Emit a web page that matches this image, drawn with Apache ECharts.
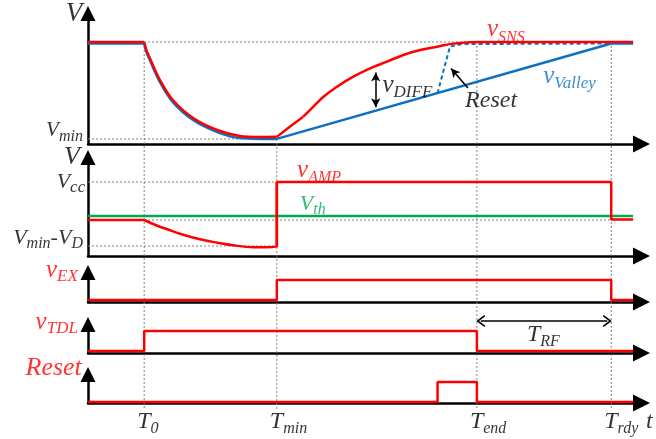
<!DOCTYPE html>
<html>
<head>
<meta charset="utf-8">
<script src="https://cdn.jsdelivr.net/npm/echarts@6/dist/echarts.min.js"></script>
<style>
  html, body { margin: 0; padding: 0; background: #ffffff; }
  #chart { width: 656px; height: 439px; }
</style>
</head>
<body>
<div id="chart"></div>
<script>
// ---- Event instants on the shared time axis (arbitrary units) ----
const T0 = 10, T_MIN = 33.6, T_END = 69.2, T_RDY = 93.1, T_STOP = 97;
const eventTimes = [T0, T_MIN, T_END, T_RDY];
const eventSubs = ['0', 'min', 'end', 'rdy'];

// ---- Panel 1: sensed voltage v_SNS and valley tracker v_Valley (normalised) ----
const V_HIGH = 1.0, V_MIN = 0.05;
const snsTime = [0, 10, 10.4, 11.0, 12.8, 15.1, 18.7, 23.0, 27.0, 30.6, 33.6, 35.9, 38.3, 40.1, 41.9, 44.3, 47.2, 50.2, 53.2, 56.1, 59.1, 62.1, 65.0, 69.2, 97];
const snsVal  = [1.0, 1.0, 0.92, 0.843, 0.627, 0.431, 0.255, 0.137, 0.078, 0.068, 0.07, 0.17, 0.268, 0.366, 0.464, 0.562, 0.66, 0.742, 0.807, 0.873, 0.922, 0.954, 0.984, 1.0, 1.0];
const valleyTime = [0, 10, 10.4, 11.0, 12.8, 15.1, 18.7, 23.0, 27.0, 30.6, 33.6, 93.1, 97];
const valleyVal  = [0.985, 0.985, 0.90, 0.823, 0.607, 0.411, 0.235, 0.117, 0.058, 0.05, 0.05, 0.985, 0.985];
// valley tracker once Reset fires (dashed)
const resetTrackTime = [62.2, 64.4, 66.5, 93.1];
const resetTrackVal  = [0.50, 0.955, 0.98, 0.985];

// ---- Panel 2: amplifier output v_AMP against threshold V_th ----
const V_CC = 7.4, V_TH = 4.0, V_MIN_VD = 1.0, V_AMP_REST = 3.6;
const ampTime = [0, 10, 12.0, 14.1, 16.5, 19.9, 23.0, 25.8, 29.4, 33.6, 33.6, 93.1, 93.1, 97];
const ampVal  = [3.6, 3.6, 3.1, 2.67, 2.2, 1.67, 1.33, 1.07, 0.87, 0.93, 7.4, 7.4, 3.65, 3.65];
const vthTime = [0, 97];
const vthVal  = [4.0, 4.0];

// ---- Logic signals ----
const exTime  = [0, 33.6, 33.6, 93.1, 93.1, 97];
const exVal   = [0.1, 0.1, 1.1, 1.1, 0.1, 0.1];
const tdlTime = [0, 10, 10, 69.2, 69.2, 97];
const tdlVal  = [0.1, 0.1, 1.1, 1.1, 0.1, 0.1];
const rstTime = [0, 62.2, 62.2, 69.2, 69.2, 97];
const rstVal  = [0.05, 0.05, 1.05, 1.05, 0.05, 0.05];

// T_RF span marker (drawn above the v_TDL pulse, in v_TDL units)
const trfLevel = 1.6;

// where each vertical event guide starts in panel-1 units
const guideTop = [V_HIGH, V_MIN, V_HIGH, V_HIGH];

// piecewise drawing: [from, to, curved?]
const snsPieces = [[0, T0, false], [T0, T_MIN, true], [T_MIN, 38.3, false], [38.3, T_END, true], [T_END, T_STOP, false]];
const valleyPieces = [[0, T0, false], [T0, T_MIN, true], [T_MIN, T_STOP, false]];
const ampPieces = [[0, T0, false], [T0, T_MIN, true], [T_MIN, T_STOP, false]];

// ---- layout ----
const W = 656;
const LEFT = 88, AXIS_END_X = 641.5, PX_PER_T = 5.62;
const X_MAX = (AXIS_END_X - LEFT) / PX_PER_T;
const ARROW = 15;
const panels = [
  { base: 144, tip: 6,   unit: 102 },
  { base: 256, tip: 150, unit: 10 },
  { base: 302, tip: 265, unit: 20 },
  { base: 353, tip: 317, unit: 20 },
  { base: 403, tip: 367, unit: 20 }
];

const SERIF = '"Liberation Serif", "Times New Roman", serif';
const RED = '#ff0000', BLUE = '#0b6fc2', GREEN = '#00a850', GREY = '#808080', BLACK = '#000000';

const grids = [], xAxes = [], yAxes = [];
panels.forEach(p => {
  const top = p.tip + ARROW / 2;
  const h = p.base - top;
  grids.push({ left: LEFT, right: W - AXIS_END_X, top: top, height: h });
  xAxes.push({
    type: 'value', min: 0, max: X_MAX, gridIndex: grids.length - 1,
    axisLine: { show: true, lineStyle: { color: BLACK, width: 2.5 }, symbol: ['none', 'triangle'], symbolSize: [17, 17] },
    axisTick: { show: false }, axisLabel: { show: false }, splitLine: { show: false }
  });
  yAxes.push({
    type: 'value', min: 0, max: h / p.unit, gridIndex: grids.length - 1,
    axisLine: { show: true, lineStyle: { color: BLACK, width: 2.5 }, symbol: ['none', 'triangle'], symbolSize: [ARROW, ARROW] },
    axisTick: { show: false }, axisLabel: { show: false }, splitLine: { show: false }
  });
});
// transparent overlay spanning all panels, in panel-1 units, for guides, time labels and spans
const ovTop = panels[0].tip + ARROW / 2;
const ovH = 436 - ovTop;
const ovMax = (panels[0].base - ovTop) / panels[0].unit;
grids.push({ left: LEFT, right: W - AXIS_END_X, top: ovTop, height: ovH });
xAxes.push({ type: 'value', min: 0, max: X_MAX, gridIndex: 5, show: false });
yAxes.push({ type: 'value', min: ovMax - ovH / panels[0].unit, max: ovMax, gridIndex: 5, show: false });
const GUIDE_BOTTOM = -2.6, TIME_LABEL_V = -2.75;
// convert a value of panel p into overlay (panel-1) units
const toOverlay = (p, v) => (panels[0].base - (panels[p].base - v * panels[p].unit)) / panels[0].unit;

const zip = (t, v) => t.map((x, i) => [x, v[i]]);
const within = (pts, a, b) => pts.filter(d => d[0] >= a && d[0] <= b);

function trace(grid, data, color, width, extra) {
  return Object.assign({
    type: 'line', xAxisIndex: grid, yAxisIndex: grid, data: data,
    showSymbol: false, symbol: 'none', silent: true, z: 4,
    lineStyle: { color: color, width: width }
  }, extra || {});
}
// a waveform drawn piece by piece: straight pieces as polylines, curved pieces smoothed
function waveform(grid, pts, pieces, color, width, z) {
  return pieces.map(pc => trace(grid, within(pts, pc[0], pc[1]), color, width,
    { z: z, smooth: pc[2] ? 0.35 : false }));
}
function dotted(grid, data) {
  return trace(grid, data, GREY, 1, { z: 1, lineStyle: { color: GREY, width: 1, type: [2, 2] } });
}

function rich(color, big, small) {
  return {
    b: { fontFamily: SERIF, fontStyle: 'italic', fontSize: big, lineHeight: big, color: color, verticalAlign: 'bottom', padding: [0, 0, 3, 0] },
    n: { fontFamily: SERIF, fontStyle: 'normal', fontSize: big, lineHeight: big, color: color, verticalAlign: 'bottom', padding: [0, 0, 3, 0] },
    s: { fontFamily: SERIF, fontStyle: 'italic', fontSize: small, lineHeight: small, color: color, verticalAlign: 'bottom' }
  };
}

// text annotations, anchored in each panel's own units
const notes = [
  { g: 0, t: -2.5,  v: 1.25,  text: '{b|V}', color: BLACK, align: 'center', big: 27, small: 16 },
  { g: 0, t: -0.9,  v: 0.10,  text: '{b|V}{s|min}', color: BLACK, align: 'right', big: 21, small: 16 },
  { g: 0, t: 71.0,  v: 1.09,  text: '{b|v}{s|SNS}', color: RED, align: 'left', big: 25, small: 16 },
  { g: 0, t: 81.0,  v: 0.63,  text: '{b|v}{s|Valley}', color: BLUE, align: 'left', big: 25, small: 17 },
  { g: 0, t: 52.4,  v: 0.54,  text: '{b|v}{s|DIFF}', color: BLACK, align: 'left', big: 25, small: 17 },
  { g: 0, t: 67.1,  v: 0.40,  text: '{b|Reset}', color: BLACK, align: 'left', big: 24, small: 16 },
  { g: 1, t: -2.85, v: 9.6,   text: '{b|V}', color: BLACK, align: 'center', big: 26, small: 16 },
  { g: 1, t: -0.5,  v: 7.1,   text: '{b|V}{s|cc}', color: BLACK, align: 'right', big: 22, small: 17 },
  { g: 1, t: -0.9,  v: 1.5,   text: '{b|V}{s|min}{n|-}{b|V}{s|D}', color: BLACK, align: 'right', big: 22, small: 16 },
  { g: 1, t: 37.2,  v: 8.3,   text: '{b|v}{s|AMP}', color: RED, align: 'left', big: 25, small: 16 },
  { g: 1, t: 37.7,  v: 4.9,   text: '{b|V}{s|th}', color: GREEN, align: 'left', big: 22, small: 16 },
  { g: 2, t: -1.8,  v: 1.45,  text: '{b|v}{s|EX}', color: RED, align: 'right', big: 25, small: 17 },
  { g: 3, t: -1.8,  v: 1.4,   text: '{b|v}{s|TDL}', color: RED, align: 'right', big: 25, small: 17 },
  { g: 3, t: 78.1,  v: 0.75,  text: '{b|T}{s|RF}', color: BLACK, align: 'left', big: 24, small: 16 },
  { g: 4, t: -1.1,  v: 1.6,   text: '{b|Reset}', color: RED, align: 'right', big: 26, small: 16 }
];
// time-axis labels below the last panel
eventTimes.forEach((t, i) => {
  notes.push({ g: 5, t: t - 1.25, v: TIME_LABEL_V, text: '{b|T}{s|' + eventSubs[i] + '}', color: BLACK, align: 'left', big: 24, small: 16 });
});
notes.push({ g: 5, t: 99.3, v: TIME_LABEL_V, text: '{b|t}', color: BLACK, align: 'left', big: 24, small: 16 });

const noteSeries = [0, 1, 2, 3, 4, 5].map(g => ({
  type: 'scatter', xAxisIndex: g, yAxisIndex: g, symbolSize: 0, silent: true, clip: false, z: 10,
  data: notes.filter(n => n.g === g).map(n => ({
    value: [n.t, n.v],
    label: {
      show: true, position: 'inside', formatter: n.text, align: n.align, verticalAlign: 'middle',
      rich: rich(n.color, n.big, n.small)
    }
  }))
}));

const CHEVRON = 'path://M5,0L10,8.2L9,9.2L5,2.8L1,9.2L0,8.2Z';
const arrowLine = { color: BLACK, width: 1.5, type: 'solid' };

const series = [];
// vertical event guides and the T_RF span
eventTimes.forEach((t, i) => {
  series.push(dotted(5, [[t, guideTop[i]], [t, GUIDE_BOTTOM]]));
});
series.push({
  type: 'line', xAxisIndex: 5, yAxisIndex: 5, data: [], silent: true, z: 6,
  markLine: {
    silent: true, symbol: [CHEVRON, CHEVRON], symbolSize: [12, 9], label: { show: false },
    lineStyle: arrowLine,
    data: [[{ coord: [T_END + 0.7, toOverlay(3, trfLevel)] }, { coord: [T_RDY - 0.7, toOverlay(3, trfLevel)] }]]
  }
});
// panel 1
series.push(dotted(0, [[0, V_HIGH], [T_RDY, V_HIGH]]));
series.push(dotted(0, [[0, V_MIN], [T_MIN, V_MIN]]));
waveform(0, zip(valleyTime, valleyVal), valleyPieces, BLUE, 2.5, 3).forEach(s => series.push(s));
series.push(trace(0, zip(resetTrackTime, resetTrackVal), BLUE, 2, {
  z: 3, lineStyle: { color: BLUE, width: 2, type: [4, 3] },
  markLine: {
    silent: true, symbol: ['none', 'arrow'], symbolSize: [7, 9], label: { show: false },
    lineStyle: arrowLine,
    data: [[{ coord: [67.6, 0.55] }, { coord: [64.6, 0.74] }]]
  }
}));
series.push({
  type: 'line', xAxisIndex: 0, yAxisIndex: 0, data: [], silent: true, z: 6,
  markLine: {
    silent: true, symbol: ['arrow', 'arrow'], symbolSize: [7, 9], label: { show: false },
    lineStyle: arrowLine,
    data: [[{ coord: [51.2, 0.70] }, { coord: [51.2, 0.36] }]]
  }
});
waveform(0, zip(snsTime, snsVal), snsPieces, RED, 2.5, 4).forEach(s => series.push(s));
// panel 2
series.push(dotted(1, [[0, V_CC], [T_MIN, V_CC]]));
series.push(dotted(1, [[0, V_MIN_VD], [T_MIN, V_MIN_VD]]));
series.push(dotted(1, [[0, V_AMP_REST], [T_RDY, V_AMP_REST]]));
series.push(trace(1, zip(vthTime, vthVal), GREEN, 2.5, { z: 3 }));
waveform(1, zip(ampTime, ampVal), ampPieces, RED, 2.5, 4).forEach(s => series.push(s));
// logic panels
series.push(trace(2, zip(exTime, exVal), RED, 2.5));
series.push(trace(3, zip(tdlTime, tdlVal), RED, 2.5));
series.push(trace(4, zip(rstTime, rstVal), RED, 2.5));
noteSeries.forEach(s => series.push(s));

const chart = echarts.init(document.getElementById('chart'), null, { renderer: 'canvas' });
chart.setOption({
  animation: false,
  backgroundColor: '#ffffff',
  grid: grids,
  xAxis: xAxes,
  yAxis: yAxes,
  series: series
});
</script>
</body>
</html>
